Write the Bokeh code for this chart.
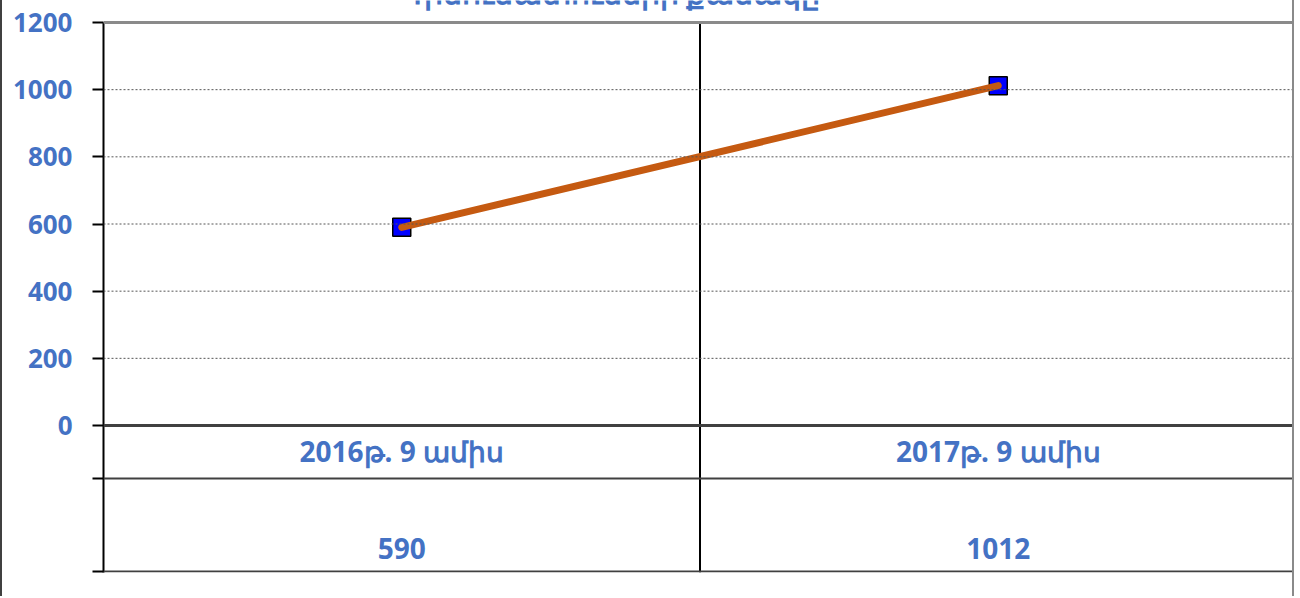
from bokeh.plotting import figure
from bokeh.models import Range1d, FactorRange, FixedTicker, Span, Label, ColumnDataSource
from bokeh.core.properties import value
from bokeh.embed import file_html
from bokeh.resources import INLINE

# ---- data ----
title_text = "Դիմումատուների քանակը"
categories = ["2016թ. 9 ամիս", "2017թ. 9 ամիս"]
values = [590, 1012]
y_ticks = [0, 200, 400, 600, 800, 1000, 1200]

BLUE_TXT = "#4472C4"
FONT = "Noto Sans"

# ---- layout constants (canvas pixels) ----
BORDER = 2
FRAME_LEFT, FRAME_RIGHT = 103 - BORDER, 1294
FRAME_TOP, ZERO_PX, ROW_PX, FRAME_BOTTOM = 22, 425, 478, 572
YMAX = 1200
px_per_unit = (ZERO_PX - FRAME_TOP) / YMAX
def py(canvas_y):
    return (ZERO_PX - canvas_y) / px_per_unit

W, H = 1294, 596
p = figure(width=W, height=H, output_backend="svg", toolbar_location=None,
           x_range=FactorRange(*categories, range_padding=0),
           y_range=Range1d(py(FRAME_BOTTOM), py(0)),
           min_border_left=FRAME_LEFT, min_border_right=W - FRAME_RIGHT,
           min_border_top=0,
           min_border_bottom=H - FRAME_BOTTOM,
           styles={"border-left": f"{BORDER}px solid #404040",
                   "border-right": f"{BORDER}px solid #8a8a8a"})
p.outline_line_color = None
p.xaxis.visible = False
p.xgrid.visible = False
p.ygrid.visible = False

# y axis (extra unlabeled ticks mark the data-table rows)
table_rows = [py(ROW_PX), py(FRAME_BOTTOM) + 1.0 / px_per_unit]
ax = p.yaxis[0]
ax.bounds = (py(FRAME_BOTTOM), YMAX)
ax.ticker = FixedTicker(ticks=y_ticks + table_rows)
ax.major_label_overrides = {t: "" for t in table_rows}
ax.axis_line_color = "black"
ax.axis_line_width = 2
ax.major_tick_line_color = "black"
ax.major_tick_line_width = 2
ax.major_tick_out = 11
ax.major_tick_in = 0
ax.minor_tick_line_color = None
ax.major_label_standoff = 20
ax.major_label_text_color = BLUE_TXT
ax.major_label_text_font = FONT
ax.major_label_text_font_style = "bold"
ax.major_label_text_font_size = "26px"

# gridlines (dotted)
for t in y_ticks[1:-1]:
    p.add_layout(Span(location=t, dimension="width", line_color="#555555",
                      line_width=1, line_dash="2 2"))
# top border of plot area
p.add_layout(Span(location=YMAX, dimension="width", line_color="#8a8a8a", line_width=3))
# x-axis line at zero
p.add_layout(Span(location=0, dimension="width", line_color="#404040", line_width=3))
# table row lines
for t in table_rows:
    p.add_layout(Span(location=t, dimension="width", line_color="#404040", line_width=2))
# category divider
p.segment(x0=[(categories[0], 0.5)], x1=[(categories[0], 0.5)],
          y0=[py(FRAME_BOTTOM)], y1=[YMAX], line_color="black", line_width=2)

src = ColumnDataSource(dict(cat=categories, val=values,
                            lbl=[str(v) for v in values]))

# markers then line on top
p.scatter("cat", "val", source=src, marker="square", size=18,
          fill_color="#0000FF", line_color="black", line_width=1.5)
p.line("cat", "val", source=src, line_color="#C55A11", line_width=7, line_cap="round")

# table texts
p.text(x="cat", y=py(450), text="cat", source=src, text_align="center",
       text_baseline="middle", text_color=BLUE_TXT, text_font=value(FONT),
       text_font_style="bold", text_font_size="28px")
p.text(x="cat", y=py(548), text="lbl", source=src, text_align="center",
       text_baseline="middle", text_color=BLUE_TXT, text_font=value(FONT),
       text_font_style="bold", text_font_size="28px")

# title (top cut off as in the reference)
p.add_layout(Label(x=610 - 103, x_units="screen", y=py(-8), text=title_text,
                   text_align="center", text_baseline="alphabetic", text_color=BLUE_TXT,
                   text_font=FONT, text_font_style="bold", text_font_size="30px"))

open("out.html", "w").write(file_html(p, INLINE))
